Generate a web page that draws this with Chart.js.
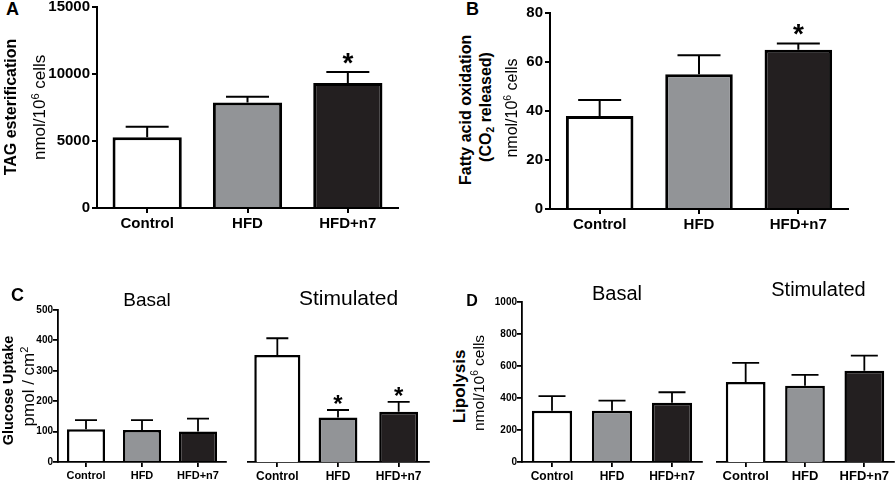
<!DOCTYPE html>
<html lang="en">
<head>
<meta charset="UTF-8">
<title>Adipocyte metabolism - Control / HFD / HFD+n7</title>
<script src="https://cdn.jsdelivr.net/npm/chart.js@4.4.1/dist/chart.umd.min.js"></script>
<style>
  body { margin: 0; background: #fff; }
  #fig { position: relative; width: 896px; height: 482px; overflow: hidden;
         font-family: 'Liberation Sans', Arial, sans-serif; color: #000; }
  #fig canvas { position: absolute; }
  .txt { position: absolute; white-space: nowrap; line-height: 1; text-align: center; color: #000; }
  .rot { transform: rotate(-90deg); transform-origin: 50% 50%; }
  .sup { font-size: 0.65em; position: relative; top: -0.55em; }
  .sub { font-size: 0.65em; position: relative; top: 0.3em; }
</style>
</head>
<body>
<div id="fig"></div>
<script>
// groups and their fill colours
const groups = ['Control', 'HFD', 'HFD+n7'];
const barColors = ['#ffffff', '#929497', '#231f20'];

// A: TAG esterification (nmol/10^6 cells)
const tagMean = [5280, 7870, 9320];
const tagErr = [6070, 8310, 10150];
const tagStar = [false, false, true];
const tagTicks = [0, 5000, 10000, 15000];

// B: fatty acid oxidation (nmol/10^6 cells)
const faoMean = [38, 55, 65];
const faoErr = [44.5, 62.8, 67.6];
const faoStar = [false, false, true];
const faoTicks = [0, 20, 40, 60, 80];

// C: glucose uptake (pmol / cm2)
const gluBasalMean = [108, 105, 100];
const gluBasalErr = [138, 138, 143];
const gluStimMean = [352, 146, 165];
const gluStimErr = [407, 171, 198];
const gluStimStar = [false, true, true];
const gluTicks = [0, 100, 200, 300, 400, 500];

// D: lipolysis (nmol/10^6 cells)
const lipBasalMean = [321, 321, 371];
const lipBasalErr = [412, 383, 436];
const lipStimMean = [500, 477, 571];
const lipStimErr = [620, 545, 665];
const lipTicks = [0, 200, 400, 600, 800, 1000];

const fig = document.getElementById('fig');
Chart.defaults.font.family = "'Liberation Sans', Arial, sans-serif";
Chart.defaults.color = '#000';

// error bars (upper only) and significance stars
const errPlugin = {
  id: 'errbars',
  afterDatasetsDraw(chart, args, o) {
    const ctx = chart.ctx;
    const y = chart.scales.y;
    ctx.save();
    ctx.strokeStyle = '#000';
    ctx.lineWidth = o.lw;
    o.err.forEach((e, i) => {
      const el = chart.getDatasetMeta(i).data[i];
      const yb = el.y;
      const ye = y.getPixelForValue(e);
      ctx.beginPath();
      ctx.moveTo(el.x, yb);
      ctx.lineTo(el.x, ye);
      ctx.moveTo(el.x - o.cap / 2, ye);
      ctx.lineTo(el.x + o.cap / 2, ye);
      ctx.stroke();
      if (o.star && o.star[i]) {
        ctx.fillStyle = '#000';
        ctx.font = 'bold ' + o.starSize + "px 'Liberation Sans', Arial, sans-serif";
        ctx.textAlign = 'center';
        ctx.textBaseline = 'alphabetic';
        ctx.fillText('*', el.x, ye + o.starOff);
      }
    });
    ctx.restore();
  }
};

function makeChart(p) {
  const cv = document.createElement('canvas');
  const padTop = 12, padR = p.padR || 4;
  const w = p.yW + (p.x1 - p.x0) + padR;
  const h = padTop + (p.y0 - p.yTop) + p.xH;
  cv.width = w; cv.height = h;
  cv.style.left = (p.x0 - p.yW) + 'px';
  cv.style.top = (p.yTop - padTop) + 'px';
  fig.appendChild(cv);

  new Chart(cv, {
    type: 'bar',
    data: {
      labels: groups,
      // one dataset per group so each bar keeps its own width
      datasets: groups.map((g, i) => ({
        label: g,
        data: p.mean.map((v, j) => (j === i ? v : null)),
        backgroundColor: barColors[i],
        borderColor: '#000',
        borderWidth: p.bw,
        borderSkipped: 'start',
        grouped: false,
        categoryPercentage: 1,
        barPercentage: p.pct[i]
      }))
    },
    options: {
      responsive: false,
      animation: false,
      devicePixelRatio: 1,
      layout: { padding: { top: padTop, right: padR, left: 0, bottom: 0 } },
      plugins: {
        legend: { display: false },
        tooltip: { enabled: false },
        errbars: { err: p.err, star: p.star, cap: p.cap, lw: p.lw, starSize: p.starSize || 26, starOff: p.starOff || 0 }
      },
      scales: {
        x: {
          offset: true,
          grid: { display: true, drawOnChartArea: false, drawTicks: true, tickLength: 5, color: '#000', lineWidth: p.lw, offset: false },
          border: { display: true, color: '#000', width: p.lw },
          ticks: { font: { size: p.labelFont, weight: 'bold' }, color: '#000', padding: 2, maxRotation: 0, autoSkip: false },
          afterFit(s) { s.height = p.xH; }
        },
        y: {
          display: p.showY,
          min: p.ticks[0],
          max: p.ticks[p.ticks.length - 1],
          afterBuildTicks(s) { s.ticks = p.ticks.map(v => ({ value: v })); },
          grid: { drawOnChartArea: false, tickLength: 5, color: '#000', lineWidth: p.lw },
          border: { display: true, color: '#000', width: p.lw },
          ticks: { font: { size: p.tickFont, weight: 'bold' }, color: '#000', padding: p.tickPad, callback: v => String(v) },
          afterFit(s) { s.width = p.yW; }
        }
      }
    },
    plugins: [errPlugin]
  });
}

// text placed by its centre, snapped so rotated glyphs land on whole pixels
function text(html, cx, cy, size, bold, rot) {
  const d = document.createElement('div');
  d.className = 'txt' + (rot ? ' rot' : '');
  d.style.fontSize = size + 'px';
  d.style.fontWeight = bold ? 'bold' : 'normal';
  const h = Math.round(size);
  d.style.height = h + 'px';
  d.innerHTML = html;
  fig.appendChild(d);
  let w = Math.ceil(d.scrollWidth);
  if (rot && (w - h) % 2) w += 1;
  d.style.width = w + 'px';
  d.style.left = Math.round(cx - w / 2) + 'px';
  d.style.top = Math.round(cy - h / 2) + 'px';
}

// A
makeChart({ x0: 97, x1: 398, yTop: 7, y0: 208, yW: 60, xH: 28, showY: true,
  ticks: tagTicks, mean: tagMean, err: tagErr, star: tagStar, tickPad: 2,
  pct: [0.69, 0.69, 0.69], tickFont: 15, labelFont: 15, lw: 2, bw: 3, cap: 43, starSize: 28, starOff: 0 });
// B
makeChart({ x0: 550, x1: 848, yTop: 13, y0: 209, yW: 45, xH: 28, showY: true,
  ticks: faoTicks, mean: faoMean, err: faoErr, star: faoStar, tickPad: 2,
  pct: [0.68, 0.68, 0.68], tickFont: 15, labelFont: 15, lw: 2, bw: 3, cap: 43, starSize: 28, starOff: 0 });
// C basal / stimulated
makeChart({ x0: 58, x1: 226, yTop: 310, y0: 462, yW: 45, xH: 20, showY: true,
  ticks: gluTicks, mean: gluBasalMean, err: gluBasalErr, star: null, tickPad: 0,
  pct: [0.68, 0.68, 0.68], tickFont: 10, labelFont: 11, lw: 1.8, bw: 2.5, cap: 22 });
makeChart({ x0: 247, x1: 429, yTop: 310, y0: 462, yW: 0, xH: 20, showY: false,
  ticks: gluTicks, mean: gluStimMean, err: gluStimErr, star: gluStimStar, tickPad: 0,
  pct: [0.76, 0.64, 0.64], tickFont: 10, labelFont: 12, lw: 1.8, bw: 2.5, cap: 22, starSize: 24, starOff: 2 });
// D basal / stimulated
makeChart({ x0: 522, x1: 702, yTop: 302, y0: 462, yW: 45, xH: 20, showY: true,
  ticks: lipTicks, mean: lipBasalMean, err: lipBasalErr, star: null, tickPad: 0,
  pct: [0.67, 0.67, 0.67], tickFont: 10, labelFont: 12, lw: 1.8, bw: 2.5, cap: 27 });
makeChart({ x0: 716, x1: 894, yTop: 302, y0: 462, yW: 0, xH: 20, showY: false, padR: 2,
  ticks: lipTicks, mean: lipStimMean, err: lipStimErr, star: null, tickPad: 0,
  pct: [0.67, 0.67, 0.67], tickFont: 10, labelFont: 13, lw: 1.8, bw: 2.5, cap: 27 });

// panel letters
text('A', 12, 9, 18, true);
text('B', 472, 9, 18, true);
text('C', 17, 295, 18, true);
text('D', 472, 301, 16, true);

// sub-panel titles
text('Basal', 147, 299, 19, false);
text('Stimulated', 348, 297, 21, false);
text('Basal', 617, 293, 20, false);
text('Stimulated', 818, 289, 20, false);

// y-axis titles
text('TAG esterification', 11, 107, 16, true, true);
text('nmol/10<span class="sup">6</span> cells', 39, 107, 17, false, true);
text('Fatty acid oxidation', 466, 110, 16, true, true);
text('(CO<span class="sub">2</span> released)', 486, 107, 16, true, true);
text('nmol/10<span class="sup">6</span> cells', 512, 108, 16, false, true);
text('Glucose Uptake', 8, 390, 14.5, true, true);
text('pmol / cm<span class="sup">2</span>', 28, 386, 17, false, true);
text('Lipolysis', 459, 386, 17, true, true);
text('nmol/10<span class="sup">6</span> cells', 479, 383, 15.5, false, true);
</script>
</body>
</html>
